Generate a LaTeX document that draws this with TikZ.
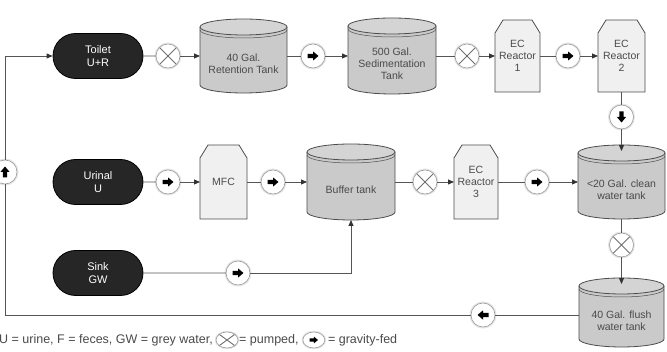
\documentclass[tikz,border=0pt]{standalone}
\usepackage{fontspec}
\setmainfont{Liberation Sans}
\usetikzlibrary{arrows.meta,calc,shapes.misc,shapes.geometric}
\definecolor{linec}{HTML}{555555}
\definecolor{tipc}{HTML}{333333}
\definecolor{txt}{HTML}{4A4A4A}
\definecolor{pillc}{HTML}{262626}
\definecolor{tankc}{HTML}{CACACA}
\definecolor{tanktop}{HTML}{D4D4D4}
\definecolor{reac}{HTML}{F0F0F0}
\definecolor{circb}{HTML}{9A9A9A}
\definecolor{xcol}{HTML}{707070}
\newcommand{\tank}[6]{%
  \fill[tankc] (#2,#4-8) -- (#2,#5+8) arc[start angle=180,end angle=360,x radius={(#3-#2)/2},y radius=8] -- (#3,#4-8) -- cycle;
  \draw[tankline] (#2,#4-8) -- (#2,#5+8) arc[start angle=180,end angle=360,x radius={(#3-#2)/2},y radius=8] -- (#3,#4-8);
  \draw[tankline,fill=tanktop] ({(#2+#3)/2},#4-8) ellipse[x radius={(#3-#2)/2},y radius=8];
  \draw[tankline,line width=0.5pt] (#2,#4-11) arc[start angle=180,end angle=360,x radius={(#3-#2)/2},y radius=8];
  \node[boxtext] (#1-t) at ({(#2+#3)/2},{(#4-16+#5)/2}) {#6};
  \node[inner sep=0,outer sep=0,minimum width={(#3-#2)*1pt},minimum height={(#4-#5)*1pt}] (#1) at ({(#2+#3)/2},{(#4+#5)/2}) {};
}
\newcommand{\reactor}[6]{%
  \draw[reactline] (#2,#5) -- (#2,#4-13) -- (#2+8,#4) -- (#3-8,#4) -- (#3,#4-13) -- (#3,#5) -- cycle;
  \node[boxtext,outer sep=0,minimum width={(#3-#2)*1pt},minimum height={(#4-#5)*1pt}] (#1) at ({(#2+#3)/2},{(#4+#5)/2}) {#6};
}
\tikzset{
  tankline/.style={draw=black!70,line width=0.8pt},
  reactline/.style={draw=black!70,line width=0.8pt,fill=reac},
  boxtext/.style={inner sep=0,align=center,text=txt,font=\fontsize{10.5}{12}\selectfont},
  pill/.style={rounded rectangle,minimum width=90pt,minimum height=45pt,inner sep=0,fill=pillc,draw=black,line width=0.8pt,text=white,align=center,font=\fontsize{11}{13}\selectfont},
  circ/.style={circle,minimum size=24pt,inner sep=0,outer sep=0,fill=white,draw=circb,line width=0.6pt,preaction={draw=black!10,line width=3pt}},
  xmark/.style={path picture={\draw[xcol,line width=0.9pt] (path picture bounding box.north west) -- (path picture bounding box.south east) (path picture bounding box.north east) -- (path picture bounding box.south west);}},
  pump/.style={circ,xmark},
  gravity/.style={circ},
  garrow/.pic={\fill[black] (-5.5,-2.2) -- (0,-2.2) -- (0,-4.6) -- (5.5,0) -- (0,4.6) -- (0,2.2) -- (-5.5,2.2) -- cycle;},
  lcirc/.style={ellipse,minimum width=22pt,minimum height=16pt,inner sep=0,outer sep=0,fill=white,draw=circb,line width=0.6pt,preaction={draw=black!10,line width=2.5pt}},
  conn/.style={draw=linec,line width=0.8pt},
  arr/.style={-{Triangle[length=6pt,width=5pt,color=tipc]}},
  legend/.style={inner sep=0,anchor=west,text=txt,font=\fontsize{12.5}{14}\selectfont}
}
\begin{document}
\begin{tikzpicture}[x=1pt,y=1pt]
\useasboundingbox[fill=white] (0,0) rectangle (667,352);
% row 1
\node[pill] (toilet) at (98,296) {Toilet\\U+R};
\node[pump] (p1) at (168,296) {};
\tank{ret}{200}{287}{333}{259}{40 Gal.\\Retention Tank}
\node[gravity] (g1) at (313,296) {};
\pic at (g1) {garrow};
\tank{sed}{348}{436}{334}{258}{500 Gal.\\Sedimentation\\Tank}
\node[pump] (p2) at (467,296) {};
\reactor{ec1}{495}{540}{332}{260}{EC\\Reactor\\1}
\node[gravity] (g2) at (568,296) {};
\pic at (g2) {garrow};
\reactor{ec2}{598}{645}{332}{260}{EC\\Reactor\\2}
\node[gravity] (g3) at (621.5,235) {};
\pic[rotate=-90] at (g3) {garrow};
% row 2
\node[pill] (urinal) at (98,170) {Urinal\\U};
\node[gravity] (g4) at (168,170) {};
\pic at (g4) {garrow};
\reactor{mfc}{200}{247}{207}{133}{MFC}
\node[gravity] (g5) at (273,170) {};
\pic at (g5) {garrow};
\tank{buf}{307}{395}{208}{132}{Buffer tank}
\node[pump] (p3) at (425,170) {};
\reactor{ec3}{454}{498}{207}{133}{EC\\Reactor\\3}
\node[gravity] (g6) at (537,170) {};
\pic at (g6) {garrow};
\tank{clean}{578}{665}{207}{133}{<20 Gal. clean\\water tank}
\node[pump] (p4) at (621.5,107) {};
\tank{flush}{579}{664}{74}{5}{40 Gal. flush\\water tank}
% row 3
\node[pill] (sink) at (98,79) {Sink\\GW};
\node[gravity] (g7) at (238,79) {};
\pic at (g7) {garrow};
\coordinate (c3) at (351,79);
% loop
\node[gravity] (g8) at (483,37) {};
\pic[rotate=180] at (g8) {garrow};
\node[gravity] (g9) at (5,180) {};
\pic[rotate=90] at (g9) {garrow};
\coordinate (c1) at (5,37);
\coordinate (c2) at (5,296);
% connectors
\draw[conn] (toilet) -- (p1);
\draw[conn,arr] (p1) -- (ret);
\draw[conn] (ret) -- (g1);
\draw[conn,arr] (g1) -- (sed);
\draw[conn] (sed) -- (p2);
\draw[conn,arr] (p2) -- (ec1);
\draw[conn] (ec1) -- (g2);
\draw[conn,arr] (g2) -- (ec2);
\draw[conn] (ec2) -- (g3);
\draw[conn,arr] (g3) -- ([yshift=-6pt]clean.north);
\draw[conn] (urinal) -- (g4);
\draw[conn,arr] (g4) -- (mfc);
\draw[conn] (mfc) -- (g5);
\draw[conn,arr] (g5) -- (buf);
\draw[conn] (buf) -- (p3);
\draw[conn,arr] (p3) -- (ec3);
\draw[conn] (ec3) -- (g6);
\draw[conn,arr] (g6) -- (clean);
\draw[conn] (clean) -- (p4);
\draw[conn,arr] (p4) -- ([yshift=-6pt]flush.north);
\draw[conn] (sink) -- (g7);
\draw[conn,arr] (g7) -- (c3) -- (buf);
\draw[conn] (flush.west |- g8) -- (g8);
\draw[conn] (g8) -- (c1) -- (g9);
\draw[conn,arr] (g9) -- (c2) -- (toilet);
% legend
\node[legend] (l1) at (-1,12) {U = urine, F = feces, GW = grey water,};
\node[lcirc,xmark,anchor=west] (lp) at ([xshift=3pt]l1.east) {};
\node[legend] (l2) at ([xshift=1pt]lp.east) {= pumped,};
\node[lcirc,anchor=west] (lg) at ([xshift=4pt]l2.east) {};
\pic[scale=0.75] at (lg) {garrow};
\node[legend] (l3) at ([xshift=3pt]lg.east) {= gravity-fed};
\end{tikzpicture}
\end{document}
